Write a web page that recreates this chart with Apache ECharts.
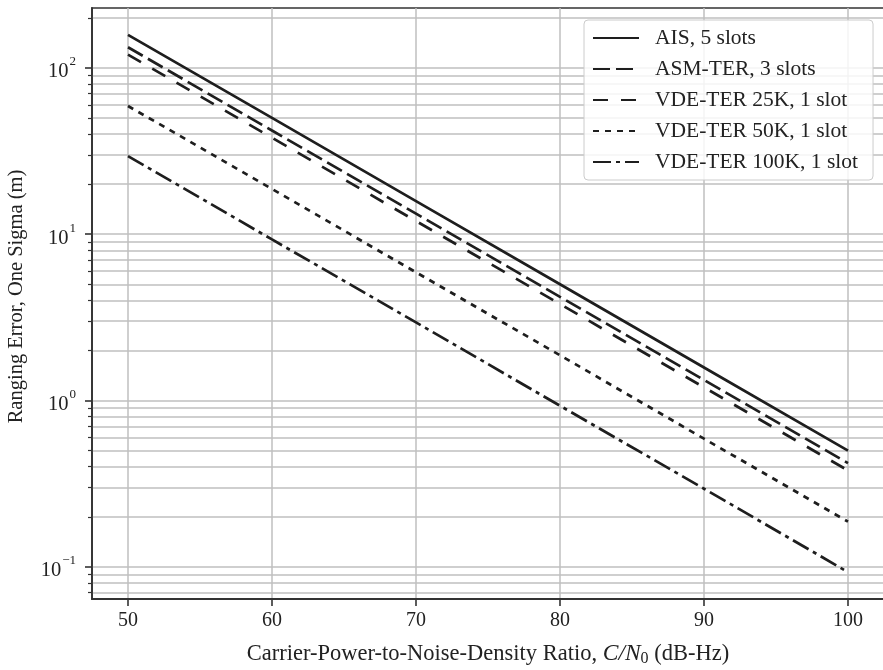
<!DOCTYPE html>
<html>
<head>
<meta charset="utf-8">
<title>Ranging Error vs C/N0</title>
<script src="https://cdn.jsdelivr.net/npm/echarts@6/dist/echarts.min.js"></script>
<style>
  html, body { margin: 0; padding: 0; background: #ffffff; }
  #chart { width: 883px; height: 670px; }
</style>
</head>
<body>
<div id="chart"></div>
<script>
// Carrier-power-to-noise-density ratio (dB-Hz)
const cn0 = [50, 60, 70, 80, 90, 100];

// One-sigma ranging error (m) per waveform
const aisFiveSlots   = [158, 50, 15.8, 5.0, 1.58, 0.50];
const asmTerThree    = [133, 42, 13.3, 4.2, 1.33, 0.42];
const vde25kOne      = [120, 38, 12.0, 3.8, 1.20, 0.38];
const vde50kOne      = [59, 18.7, 5.9, 1.87, 0.59, 0.187];
const vde100kOne     = [29.5, 9.3, 2.95, 0.93, 0.295, 0.093];

const seriesNames = [
  'AIS, 5 slots',
  'ASM-TER, 3 slots',
  'VDE-TER 25K, 1 slot',
  'VDE-TER 50K, 1 slot',
  'VDE-TER 100K, 1 slot'
];

// Tick positions
const xTicks = [50, 60, 70, 80, 90, 100];
const yMajorTicks = [0.1, 1, 10, 100];
const yMinorTicks = [0.07, 0.08, 0.09,
  0.2, 0.3, 0.4, 0.5, 0.6, 0.7, 0.8, 0.9,
  2, 3, 4, 5, 6, 7, 8, 9,
  20, 30, 40, 50, 60, 70, 80, 90,
  200];

const FONT = '"Liberation Serif", "DejaVu Serif", serif';
const INK = '#1e1e1e';
const GRID = '#bfbfbf';

const dashes = [
  'solid',
  [17, 6],
  [15, 13],
  [6, 6],
  [18, 5, 4, 5]
];

const values = [aisFiveSlots, asmTerThree, vde25kOne, vde50kOne, vde100kOne];

const series = values.map((vals, i) => ({
  name: seriesNames[i],
  type: 'line',
  xAxisIndex: 0,
  yAxisIndex: 0,
  symbol: 'none',
  showSymbol: false,
  silent: true,
  animation: false,
  data: cn0.map((x, k) => [x, vals[k]]),
  lineStyle: { color: INK, width: 2.7, type: dashes[i], cap: 'butt' },
  itemStyle: { color: INK }
}));

function supLabel(v) {
  const e = Math.round(Math.log10(v));
  const exp = e < 0 ? '\u2212' + Math.abs(e) : String(e);
  return '{b|10}{s|' + exp + '}';
}

const yCommon = {
  type: 'log',
  logBase: 10,
  min: 0.0641,
  max: 229,
  position: 'left',
  gridIndex: 0
};

const option = {
  backgroundColor: '#ffffff',
  animation: false,
  grid: {
    left: 92, top: 8, width: 792, height: 591,
    containLabel: false,
    outerBoundsMode: 'none',
    show: true, borderColor: '#333333', borderWidth: 1.6,
    backgroundColor: 'transparent'
  },
  legend: {
    orient: 'vertical',
    left: 584,
    top: 20,
    padding: [7, 15, 7, 8],
    itemWidth: 46,
    itemHeight: 14,
    itemGap: 9,
    backgroundColor: 'rgba(255,255,255,0.82)',
    borderColor: '#cccccc',
    borderWidth: 1,
    borderRadius: 4,
    selectedMode: false,
    itemStyle: { opacity: 0 },
    textStyle: { fontFamily: FONT, fontSize: 21.5, color: '#222', lineHeight: 22, padding: [0, 0, 0, 11] },
    data: seriesNames.map(n => ({ name: n }))
  },
  xAxis: {
    type: 'value',
    min: 47.5,
    max: 102.5,
    name: 'Carrier-Power-to-Noise-Density Ratio, {i|C}{i|/}{i|N}{sub|0} (dB-Hz)',
    nameLocation: 'middle',
    nameGap: 42,
    nameTextStyle: {
      fontFamily: FONT, fontSize: 22.5, color: '#222',
      rich: {
        i: { fontFamily: FONT, fontSize: 23.5, fontStyle: 'italic', color: '#222' },
        sub: { fontFamily: FONT, fontSize: 16, color: '#222', padding: [10, 0, 0, 0] }
      }
    },
    axisLine: { show: true, onZero: false, lineStyle: { color: '#333', width: 1.8 } },
    axisTick: { show: true, length: 7, customValues: xTicks, lineStyle: { color: '#333', width: 1.6 } },
    axisLabel: { customValues: xTicks, margin: 12, fontFamily: FONT, fontSize: 20, color: '#222' },
    splitLine: { show: true, lineStyle: { color: GRID, width: 1.5 } }
  },
  yAxis: [
    Object.assign({}, yCommon, {
      name: 'Ranging Error, One Sigma (m)',
      nameLocation: 'middle',
      nameGap: 65,
      nameRotate: 90,
      nameTextStyle: { fontFamily: FONT, fontSize: 20.5, color: '#222', padding: [0, 0, 0, 14] },
      axisLine: { show: true, onZero: false, lineStyle: { color: '#333', width: 1.8 } },
      axisTick: { show: true, length: 7, customValues: yMajorTicks, lineStyle: { color: '#333', width: 1.6 } },
      axisLabel: {
        customValues: yMajorTicks,
        margin: 16,
        formatter: supLabel,
        rich: {
          b: { fontFamily: FONT, fontSize: 20.5, color: '#222', padding: [8, 0, 0, 0] },
          s: { fontFamily: FONT, fontSize: 13, color: '#222', padding: [0, 0, 12, 1] }
        }
      },
      splitLine: { show: true, lineStyle: { color: GRID, width: 1.5 } }
    }),
    Object.assign({}, yCommon, {
      axisLine: { show: false },
      axisTick: { show: true, length: 4, customValues: yMinorTicks, lineStyle: { color: '#333', width: 1.2 } },
      axisLabel: { show: false, customValues: yMinorTicks },
      splitLine: { show: true, lineStyle: { color: GRID, width: 1.5 } }
    })
  ],
  series: series
};

const chart = echarts.init(document.getElementById('chart'), null, { renderer: 'canvas' });
chart.setOption(option);
</script>
</body>
</html>
